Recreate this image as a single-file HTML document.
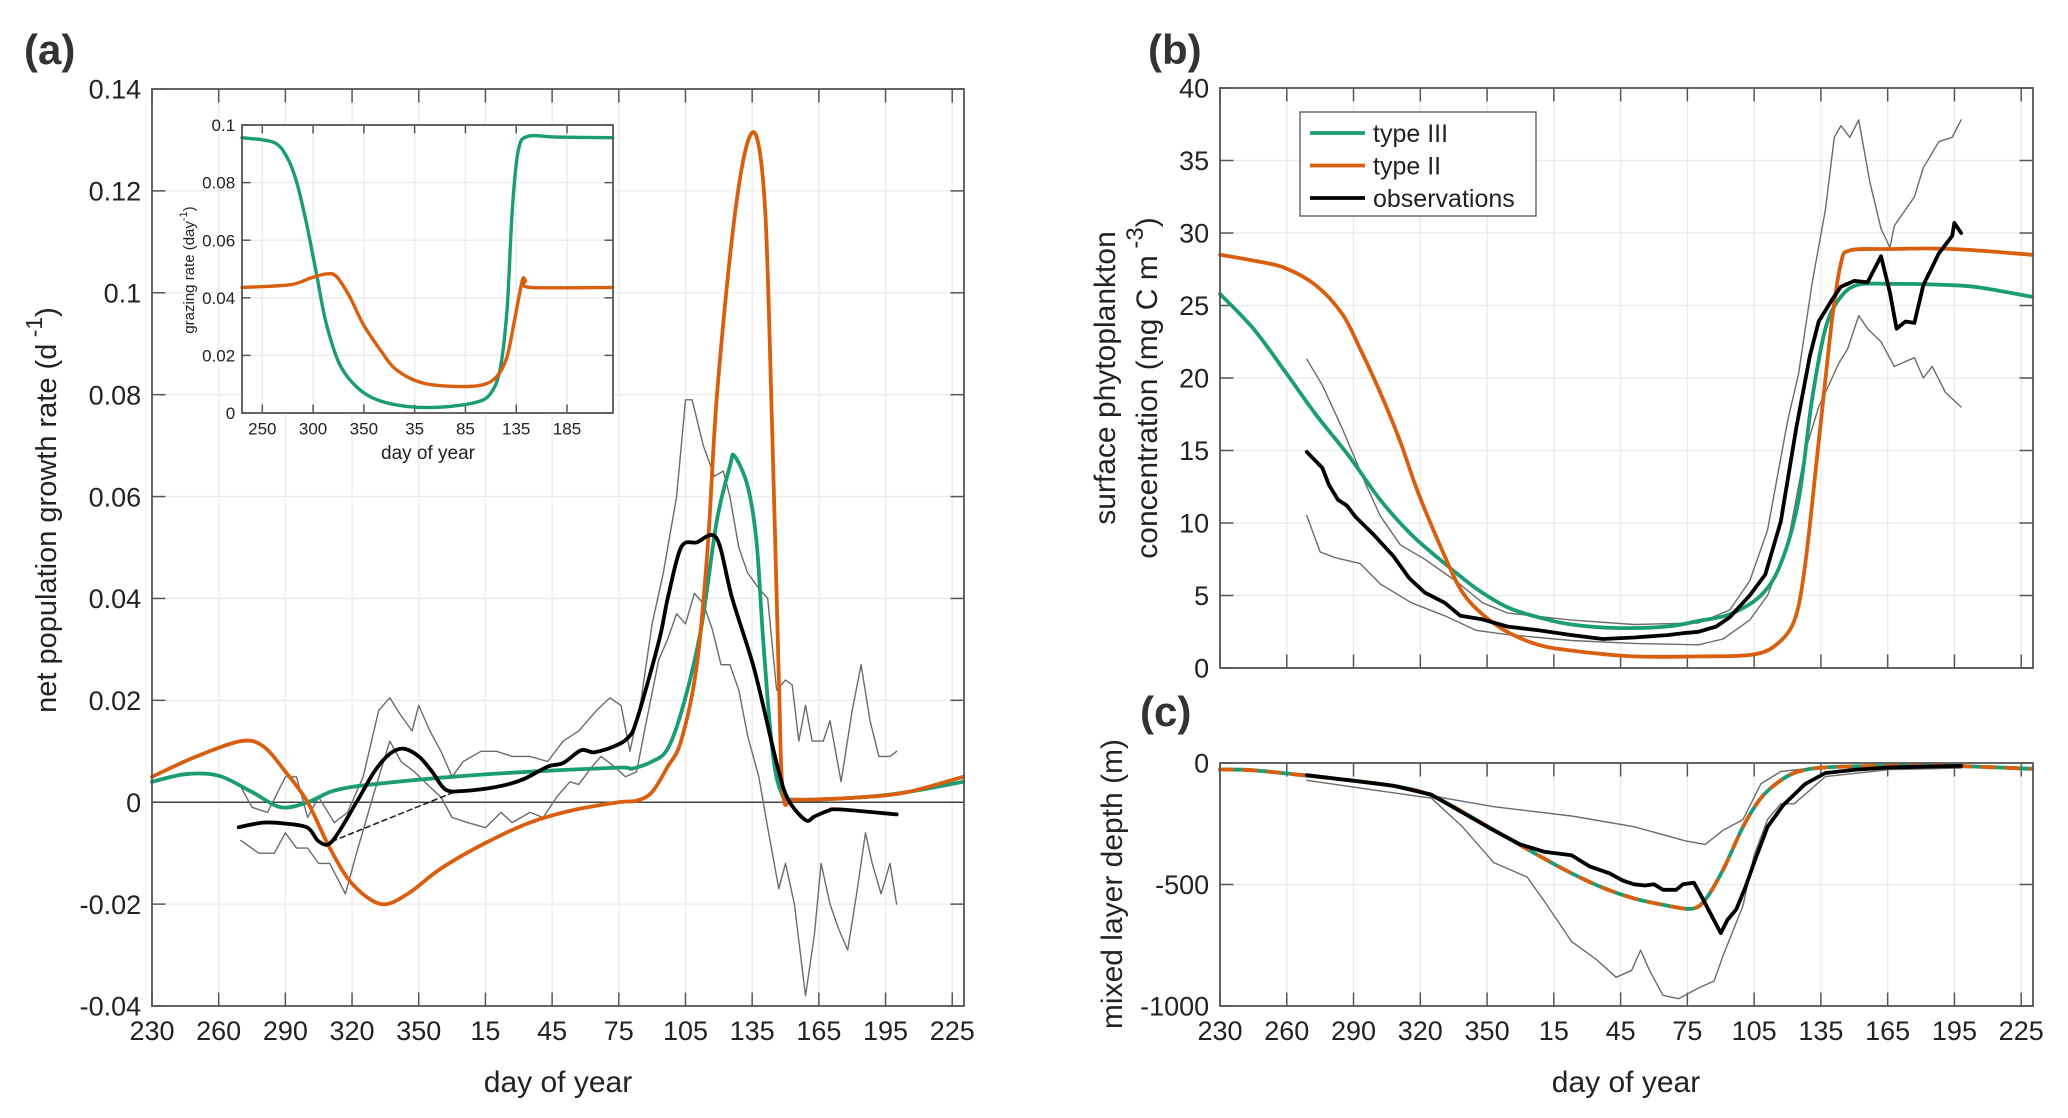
<!DOCTYPE html>
<html><head><meta charset="utf-8">
<style>
html,body{margin:0;padding:0;background:#fff;}
svg{display:block;font-family:"Liberation Sans",Arial,sans-serif;}
</style></head>
<body>
<svg id="fig" width="2068" height="1118" viewBox="0 0 2068 1118">
<g id="gA"></g>
<g id="gI"></g>
<g id="gB"></g>
<g id="gC"></g>
<text x="24" y="64" font-size="42" font-weight="bold" fill="#333">(a)</text>
<text x="1148" y="64" font-size="42" font-weight="bold" fill="#333">(b)</text>
<text x="1140" y="726" font-size="42" font-weight="bold" fill="#333">(c)</text>
</svg>
<script>
// ---- data (day axis continuous: 230..595, days >365 wrap) ----
const xTicksMain = [230,260,290,320,350,380,410,440,470,500,530,560,590];
const xTickLabelsMain = ["230","260","290","320","350","15","45","75","105","135","165","195","225"];
const aYTicks = [-0.04,-0.02,0,0.02,0.04,0.06,0.08,0.1,0.12,0.14];
const aYTickLabels = ["-0.04","-0.02","0","0.02","0.04","0.06","0.08","0.1","0.12","0.14"];
const aGreenDays = [230,245,260,275,288,300,310,320,340,365,400,440,446,455,462,469,477,484,490,492,498,502,505,509,513,519,550,570,595];
const aGreenVals = [0.004,0.0055,0.0052,0.002,-0.001,0.0,0.002,0.003,0.004,0.005,0.006,0.0068,0.0066,0.008,0.0105,0.019,0.034,0.055,0.066,0.068,0.062,0.051,0.0315,0.0105,0.002,0.0005,0.001,0.002,0.004];
const aOrangeDays = [230,250,270,280,290,300,310,320,333,345,360,380,400,420,440,448,455,462,468,475,480,484,491,497,502,506,509,512,514,520,550,570,595];
const aOrangeVals = [0.005,0.009,0.012,0.011,0.006,0.0,-0.009,-0.016,-0.020,-0.018,-0.013,-0.008,-0.004,-0.0015,0.0,0.0003,0.002,0.007,0.012,0.0266,0.05,0.079,0.111,0.128,0.1306,0.115,0.073,0.0245,0.0014,0.0005,0.001,0.002,0.005];
const aObsDays = [269,280,290,300,305,311,322,330,337,343,350,356,362,370,385,397,408,415,423,429,438,444,448,458,462,468,475,484,491,501,511,516,524,528,534,539,565];
const aObsVals = [-0.0049,-0.004,-0.0042,-0.005,-0.0077,-0.0077,0.0,0.006,0.0095,0.0105,0.009,0.006,0.0025,0.0022,0.003,0.0045,0.007,0.0077,0.0102,0.0098,0.011,0.0126,0.016,0.0315,0.04,0.05,0.051,0.0518,0.04,0.026,0.0077,0.0007,-0.0035,-0.0028,-0.0017,-0.0014,-0.0024];
const aDashDays = [311,366];
const aDashVals = [-0.0077,0.002];
const aUpDays = [270,275,282,290,295,300,305,312,318,325,332,337,342,347,350,355,360,365,370,378,385,392,400,408,415,422,430,436,441,445,450,455,460,466,470,473,478,483,487,490,494,498,503,507,511,515,518,521,524,527,532,535,540,545,549,553,557,562,565];
const aUpVals = [0.003,-0.001,-0.002,0.005,0.005,-0.003,0.001,-0.004,-0.002,0.005,0.018,0.0205,0.017,0.014,0.019,0.014,0.010,0.005,0.008,0.010,0.010,0.009,0.009,0.008,0.012,0.014,0.018,0.0205,0.019,0.010,0.020,0.035,0.045,0.060,0.079,0.079,0.070,0.064,0.065,0.060,0.050,0.045,0.042,0.040,0.022,0.024,0.023,0.012,0.019,0.012,0.012,0.016,0.004,0.018,0.027,0.016,0.009,0.009,0.010];
const aLoDays = [270,278,285,290,295,300,305,310,317,322,330,337,342,348,355,360,365,372,380,387,392,400,406,412,418,422,428,432,438,443,448,452,458,462,466,470,474,478,482,486,490,494,498,503,507,512,515,519,524,528,531,535,539,543,547,551,554,558,562,565];
const aLoVals = [-0.0075,-0.01,-0.01,-0.006,-0.009,-0.009,-0.012,-0.012,-0.018,-0.010,0.002,0.012,0.008,0.006,0.003,0.001,-0.003,-0.004,-0.005,-0.002,-0.004,-0.002,-0.003,0.001,0.004,0.0035,0.007,0.009,0.007,0.005,0.006,0.015,0.028,0.032,0.037,0.035,0.041,0.039,0.034,0.027,0.027,0.022,0.013,0.005,-0.005,-0.017,-0.012,-0.020,-0.038,-0.026,-0.012,-0.020,-0.025,-0.029,-0.018,-0.006,-0.012,-0.018,-0.012,-0.020];
// inset
const iXTicks = [250,300,350,400,450,500,550];
const iXTickLabels = ["250","300","350","35","85","135","185"];
const iYTicks = [0,0.02,0.04,0.06,0.08,0.1];
const iYTickLabels = ["0","0.02","0.04","0.06","0.08","0.1"];
const iGreenDays = [230,261,274,284,294,304,313,326,343,363,392,425,458,474,484,491,496,502,511,540,595];
const iGreenVals = [0.0956,0.094,0.089,0.080,0.065,0.047,0.031,0.017,0.009,0.0046,0.0023,0.002,0.0035,0.0064,0.015,0.036,0.070,0.091,0.096,0.0958,0.0956];
const iOrangeDays = [230,277,297,313,323,336,349,366,382,408,441,467,481,491,499,506,509,514,595];
const iOrangeVals = [0.0436,0.0445,0.0468,0.0483,0.0474,0.0404,0.031,0.022,0.015,0.0104,0.0092,0.0098,0.0127,0.0196,0.0335,0.046,0.046,0.0436,0.0436];
// panel b
const bYTicks = [0,5,10,15,20,25,30,35,40];
const bYTickLabels = ["0","5","10","15","20","25","30","35","40"];
const bGreenDays = [230,245,259,273,288,302,316,331,345,359,373,388,408,431,445,459,473,482,490,496,502,508,516,531,559,573,595];
const bGreenVals = [25.8,23.4,20.5,17.5,14.6,11.6,9.2,7.2,5.5,4.2,3.5,3.0,2.76,2.86,3.25,3.7,5.0,7.2,11.6,18.5,23.4,25.4,26.4,26.5,26.4,26.2,25.6];
const bOrangeDays = [230,245,259,273,285,293,302,311,319,331,339,348,359,373,388,416,445,468,479,488,493,499,505,509,513,531,559,595];
const bOrangeVals = [28.5,28.1,27.6,26.4,24.4,22.0,19.0,15.6,12.1,7.7,5.2,3.7,2.5,1.6,1.2,0.8,0.8,0.9,1.5,3.25,7.2,15.6,24,27.9,28.8,28.9,28.9,28.5];
const bObsDays = [269,276,279,283,287,291,299,308,315,322,331,338,348,359,373,388,402,416,431,438,445,453,459,468,475,482,489,495,499,505,509,515,521,527,531,534,538,542,546,553,559,560,563];
const bObsVals = [14.9,13.8,12.6,11.6,11.2,10.4,9.2,7.7,6.2,5.2,4.5,3.6,3.35,2.86,2.6,2.27,2.0,2.1,2.27,2.4,2.5,2.86,3.5,5.0,6.45,10.1,16.6,21.5,23.9,25.4,26.3,26.7,26.6,28.4,25.9,23.4,23.9,23.8,26.4,28.6,29.8,30.7,30.0];
const bUpDays = [269,276,285,296,302,311,322,336,348,359,388,416,445,459,468,476,485,490,496,502,506,509,513,517,522,527,531,533,542,546,553,559,563];
const bUpVals = [21.3,19.5,16.5,12.5,10.5,8.5,7.5,6.0,4.5,3.8,3.3,3.0,3.1,4.0,6.0,9.5,17.0,20.3,26.5,31.6,36.6,37.4,36.6,37.8,33.5,30.3,29.0,30.5,32.5,34.5,36.3,36.6,37.8];
const bLoDays = [269,275,282,293,302,316,331,345,359,388,416,445,456,468,476,485,493,499,508,512,517,521,527,533,542,546,550,556,563];
const bLoVals = [10.5,8.0,7.6,7.2,5.8,4.5,3.6,2.6,2.3,1.9,1.7,1.6,2.0,3.3,5.0,8.5,15.0,18.0,21.0,22.0,24.3,23.4,22.5,20.8,21.4,20.0,20.8,19.0,18.0];
// panel c
const cYTicks = [-1000,-500,0];
const cYTickLabels = ["-1000","-500","0"];
const cModelDays = [230,245,273,302,319,331,345,359,373,388,402,416,431,442,448,456,465,473,482,490,502,531,559,595];
const cModelVals = [-27,-30,-56,-86,-115,-160,-233,-307,-380,-454,-513,-557,-587,-600,-563,-440,-263,-145,-71,-35,-18,-12,-12,-24];
const cObsDays = [269,288,308,325,339,353,365,376,388,396,405,411,416,421,425,429,435,438,443,446,451,455,458,462,466,470,476,483,493,502,516,531,563];
const cObsVals = [-50,-71,-94,-130,-204,-277,-336,-366,-380,-425,-454,-484,-499,-504,-499,-522,-522,-499,-493,-543,-631,-700,-646,-602,-513,-410,-263,-174,-86,-41,-27,-18,-12];
const cUpDays = [269,302,331,353,388,416,439,448,456,465,473,482,502,563];
const cUpVals = [-56,-86,-145,-180,-218,-262,-320,-335,-277,-233,-86,-35,-15,-10];
const cLoDays = [269,302,325,339,353,368,376,388,399,408,415,419,423,429,436,445,452,456,465,470,476,482,488,502,531,563];
const cLoVals = [-71,-115,-145,-263,-410,-469,-572,-735,-808,-882,-853,-770,-853,-956,-970,-926,-897,-794,-587,-380,-233,-168,-168,-56,-27,-21];

const NS="http://www.w3.org/2000/svg";
const GREEN="#1a9c74", ORANGE="#d95f0e";
function lin(d0,d1,r0,r1){return v=>r0+(v-d0)/(d1-d0)*(r1-r0);}
function mk(parent,tag,attrs){const e=document.createElementNS(NS,tag);for(const k in attrs)e.setAttribute(k,attrs[k]);parent.appendChild(e);return e;}
function pathD(xs,ys,sx,sy,smooth){
  const P=xs.map((x,i)=>[sx(x),sy(ys[i])]);
  if(!smooth){return P.map((p,i)=>(i?"L":"M")+p[0].toFixed(1)+","+p[1].toFixed(1)).join("");}
  let d="M"+P[0][0].toFixed(1)+","+P[0][1].toFixed(1);
  for(let i=0;i<P.length-1;i++){
    const p0=P[Math.max(0,i-1)],p1=P[i],p2=P[i+1],p3=P[Math.min(P.length-1,i+2)];
    const t=0.16;
    const c1=[p1[0]+(p2[0]-p0[0])*t,p1[1]+(p2[1]-p0[1])*t];
    const c2=[p2[0]-(p3[0]-p1[0])*t,p2[1]-(p3[1]-p1[1])*t];
    d+="C"+c1[0].toFixed(1)+","+c1[1].toFixed(1)+" "+c2[0].toFixed(1)+","+c2[1].toFixed(1)+" "+p2[0].toFixed(1)+","+p2[1].toFixed(1);
  }
  return d;
}
function axes(g,box,sx,sy,xt,xl,yt,yl,fs,showXLabels,name){
  const [L,T,R,B]=box;
  mk(g,"rect",{x:L,y:T,width:R-L,height:B-T,fill:"#fff"});
  xt.forEach((v,i)=>{
    const x=sx(v);
    const gl=mk(g,"line",{x1:x,x2:x,y1:T,y2:B,stroke:"#ebebeb","stroke-width":1.3});
    
    
    mk(g,"line",{x1:x,x2:x,y1:B,y2:B-fs*0.5,stroke:"#555","stroke-width":1.5});
    mk(g,"line",{x1:x,x2:x,y1:T,y2:T+fs*0.5,stroke:"#555","stroke-width":1.5});
    if(showXLabels){
      const t=mk(g,"text",{x:x,y:B+fs*1.25,"text-anchor":"middle","font-size":fs,fill:"#222"});
      t.textContent=xl[i];
      
      
    }
  });
  yt.forEach((v,i)=>{
    const y=sy(v);
    const gl=mk(g,"line",{x1:L,x2:R,y1:y,y2:y,stroke:"#ebebeb","stroke-width":1.3});
    
    
    mk(g,"line",{x1:L,x2:L+fs*0.5,y1:y,y2:y,stroke:"#555","stroke-width":1.5});
    mk(g,"line",{x1:R,x2:R-fs*0.5,y1:y,y2:y,stroke:"#555","stroke-width":1.5});
    const t=mk(g,"text",{x:L-fs*0.4,y:y+fs*0.36,"text-anchor":"end","font-size":fs,fill:"#222"});
    t.textContent=yl[i];
    
    
  });
}
function frame(g,box){const [L,T,R,B]=box;const f=mk(g,"rect",{x:L,y:T,width:R-L,height:B-T,fill:"none",stroke:"#555","stroke-width":1.8});

}
function line(g,xs,ys,sx,sy,color,w,smooth,nm,dash){
  const p=mk(g,"path",{d:pathD(xs,ys,sx,sy,smooth),fill:"none",stroke:color,"stroke-width":w,"stroke-linejoin":"round","stroke-linecap":"round"});
  if(dash)p.setAttribute("stroke-dasharray",dash);
  
  
  return p;
}
function txt(g,x,y,s,fs,anchor,rot,nm){
  const t=mk(g,"text",{x:x,y:y,"font-size":fs,fill:"#222","text-anchor":anchor||"middle"});
  if(rot)t.setAttribute("transform","rotate(-90 "+x+" "+y+")");
  t.innerHTML=s;
  
  
  return t;
}

// ---- Panel A ----
const gA=document.getElementById("gA");
const boxA=[152,89,964,1006];
const sxA=lin(230,595.3,152,964), syA=lin(-0.04,0.14,1006,89);
axes(gA,boxA,sxA,syA,xTicksMain,xTickLabelsMain,aYTicks,aYTickLabels,27,true,"panel-a");
const zl=mk(gA,"line",{x1:152,x2:964,y1:syA(0),y2:syA(0),stroke:"#444","stroke-width":1.5});


line(gA,aUpDays,aUpVals,sxA,syA,"#6b6b6b",1.4,false,"obs-upper-bound");
line(gA,aLoDays,aLoVals,sxA,syA,"#6b6b6b",1.4,false,"obs-lower-bound");
line(gA,aDashDays,aDashVals,sxA,syA,"#222",1.6,false,"obs-gap-dashed","5 4");
line(gA,aGreenDays,aGreenVals,sxA,syA,GREEN,3.8,true,"type-iii-growth-line");
line(gA,aOrangeDays,aOrangeVals,sxA,syA,ORANGE,3.8,true,"type-ii-growth-line");
line(gA,aObsDays,aObsVals,sxA,syA,"#000",3.8,true,"observations-growth-line");
frame(gA,boxA);
txt(gA,558,1092,"day of year",30,"middle",false,"panel-a-x-axis-title");
txt(gA,56,510,"net population growth rate (d<tspan dy='-14' font-size='23'>  -1</tspan><tspan dy='14'>)</tspan>",29,"middle",true,"panel-a-y-axis-title");

// ---- Inset ----
const gI=document.getElementById("gI");
const boxI=[242,125,613,413];
const sxI=lin(230,595.3,242,613), syI=lin(0,0.1,413,125);
axes(gI,boxI,sxI,syI,iXTicks,iXTickLabels,iYTicks,iYTickLabels,17,true,"inset");
line(gI,iGreenDays,iGreenVals,sxI,syI,GREEN,3.4,true,"inset-type-iii-line");
line(gI,iOrangeDays,iOrangeVals,sxI,syI,ORANGE,3.4,true,"inset-type-ii-line");
frame(gI,boxI);
txt(gI,428,459,"day of year",19,"middle",false,"inset-x-axis-title");
txt(gI,194,270,"grazing rate (day<tspan dy='-7' font-size='11'>-1</tspan><tspan dy='7'>)</tspan>",15,"middle",true,"inset-y-axis-title");

// ---- Panel B ----
const gB=document.getElementById("gB");
const boxB=[1220,88,2033,668];
const sxB=lin(230,595.3,1220,2033), syB=lin(0,40,668,88);
axes(gB,boxB,sxB,syB,xTicksMain,xTickLabelsMain,bYTicks,bYTickLabels,27,false,"panel-b");
line(gB,bUpDays,bUpVals,sxB,syB,"#6b6b6b",1.4,false,"obs-upper-bound-b");
line(gB,bLoDays,bLoVals,sxB,syB,"#6b6b6b",1.4,false,"obs-lower-bound-b");
line(gB,bGreenDays,bGreenVals,sxB,syB,GREEN,3.8,true,"type-iii-concentration-line");
line(gB,bOrangeDays,bOrangeVals,sxB,syB,ORANGE,3.8,true,"type-ii-concentration-line");
line(gB,bObsDays,bObsVals,sxB,syB,"#000",3.8,false,"observations-concentration-line");
frame(gB,boxB);
txt(gB,1115,378,"surface phytoplankton",30,"middle",true,"panel-b-y-axis-title-line1");
txt(gB,1157,388,"concentration (mg C m<tspan dy='-14' font-size='24'>  -3</tspan><tspan dy='14'>)</tspan>",30,"middle",true,"panel-b-y-axis-title-line2");
// legend
const lg=mk(gB,"g",{});


mk(lg,"rect",{x:1300,y:112,width:236,height:104,fill:"#fff",stroke:"#555","stroke-width":1.3});
const legNames=["type III","type II","observations"];
const legColors=[GREEN,ORANGE,"#000"];
legNames.forEach((n,i)=>{
  const y=133+i*32.5;
  const l=mk(lg,"line",{x1:1310,x2:1365,y1:y,y2:y,stroke:legColors[i],"stroke-width":3.8});
  
  
  const t=txt(lg,1373,y+9,n,25,"start",false,"legend-entry");
});

// ---- Panel C ----
const gC=document.getElementById("gC");
const boxC=[1220,763,2033,1006];
const sxC=lin(230,595.3,1220,2033), syC=lin(-1000,0,1006,763);
axes(gC,boxC,sxC,syC,xTicksMain,xTickLabelsMain,cYTicks,cYTickLabels,27,true,"panel-c");
line(gC,cUpDays,cUpVals,sxC,syC,"#6b6b6b",1.4,false,"mld-upper-bound");
line(gC,cLoDays,cLoVals,sxC,syC,"#6b6b6b",1.4,false,"mld-lower-bound");
line(gC,cModelDays,cModelVals,sxC,syC,GREEN,3.8,true,"type-iii-mld-line");
line(gC,cModelDays,cModelVals,sxC,syC,ORANGE,3.8,true,"type-ii-mld-line","12 12");
line(gC,cObsDays,cObsVals,sxC,syC,"#000",3.8,false,"observations-mld-line");
frame(gC,boxC);
txt(gC,1626,1092,"day of year",30,"middle",false,"panel-c-x-axis-title");
txt(gC,1122,884,"mixed layer depth (m)",30,"middle",true,"panel-c-y-axis-title");
</script>
</body></html>
